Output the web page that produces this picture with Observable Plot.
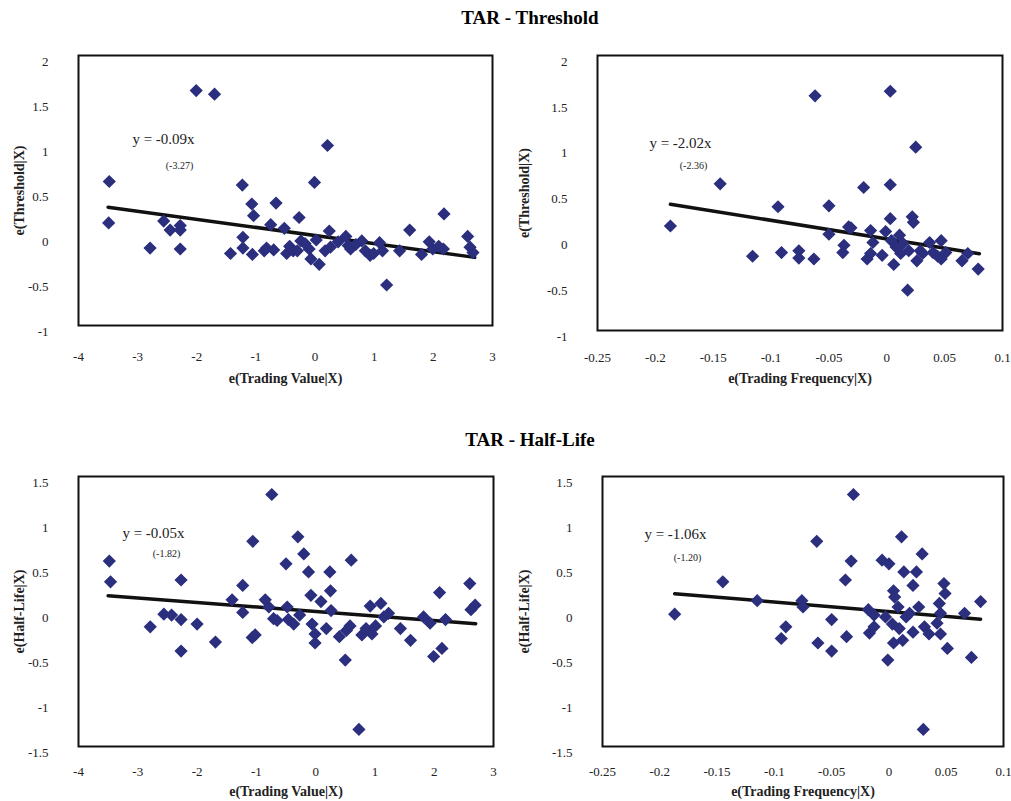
<!DOCTYPE html>
<html><head><meta charset="utf-8">
<script src="https://cdn.jsdelivr.net/npm/d3@7"></script>
<script src="https://cdn.jsdelivr.net/npm/@observablehq/plot@0.6"></script>
<style>
body{margin:0;background:#fff;font-family:"Liberation Serif",serif}
#wrap{position:relative;width:1011px;height:801px}
.t{position:absolute;left:0;width:1060px;text-align:center;font-weight:bold;font-size:19px}
.p{position:absolute}
</style></head><body><div id="wrap">
<div class="t" style="top:7px">TAR - Threshold</div>
<div class="t" style="top:429px">TAR - Half-Life</div>
</div>
<script>
// Panel 1: e(Trading Value|X) vs e(Threshold|X)
const tvX1 = [-3.48,-3.49,-2.01,-1.70,-2.79,-2.56,-2.45,-2.28,-2.28,-2.28,-1.43,-1.23,-1.22,-1.22,-1.07,-1.04,-1.06,-0.86,-0.82,-0.75,-0.70,-0.66,-0.52,-0.48,-0.43,-0.37,-0.30,-0.27,-0.24,-0.17,-0.10,-0.07,-0.01,0.02,0.07,0.17,0.21,0.24,0.26,0.39,0.52,0.56,0.60,0.69,0.79,0.85,0.93,0.99,1.09,1.14,1.21,1.43,1.60,1.80,1.93,1.99,2.09,2.17,2.18,2.58,2.62,2.67];
const thY1 = [0.60,0.14,1.61,1.57,-0.14,0.16,0.06,0.11,0.06,-0.15,-0.20,0.56,-0.02,-0.14,0.35,0.22,-0.21,-0.17,-0.14,0.12,-0.16,0.36,0.08,-0.20,-0.12,-0.17,-0.17,0.20,-0.06,-0.09,-0.15,-0.26,0.59,-0.05,-0.32,-0.17,1.00,0.05,-0.13,-0.07,-0.01,-0.11,-0.15,-0.10,-0.06,-0.17,-0.22,-0.20,-0.08,-0.17,-0.55,-0.17,0.06,-0.21,-0.07,-0.15,-0.12,-0.15,0.24,-0.01,-0.13,-0.19];
// Panel 2: e(Trading Frequency|X) vs e(Threshold|X)
const tfX2 = [-0.187,-0.144,-0.116,-0.094,-0.091,-0.076,-0.076,-0.063,-0.062,-0.050,-0.050,-0.038,-0.037,-0.033,-0.031,-0.020,-0.017,-0.014,-0.014,-0.012,-0.004,-0.001,0.003,0.003,0.003,0.004,0.006,0.008,0.011,0.012,0.014,0.018,0.019,0.022,0.023,0.025,0.026,0.029,0.031,0.037,0.040,0.044,0.047,0.047,0.051,0.065,0.070,0.079];
const thY2 = [0.14,0.60,-0.19,0.35,-0.15,-0.13,-0.21,-0.22,1.56,0.36,0.05,-0.15,-0.07,0.13,0.12,0.56,-0.22,0.09,-0.16,-0.04,-0.18,0.08,1.61,0.59,0.22,-0.02,-0.28,-0.09,0.04,-0.16,-0.05,-0.56,-0.13,0.24,0.18,1.00,-0.24,-0.13,-0.16,-0.04,-0.15,-0.19,-0.02,-0.22,-0.15,-0.24,-0.16,-0.33];
// Panel 3: e(Trading Value|X) vs e(Half-Life|X)
const tvX3 = [-3.48,-3.46,-2.79,-2.56,-2.43,-2.27,-2.27,-2.27,-2.00,-1.69,-1.41,-1.23,-1.23,-1.06,-1.07,-1.02,-0.85,-0.79,-0.74,-0.71,-0.65,-0.50,-0.48,-0.46,-0.37,-0.30,-0.27,-0.20,-0.12,-0.08,-0.06,-0.01,-0.01,0.09,0.18,0.24,0.25,0.26,0.40,0.50,0.52,0.58,0.60,0.73,0.78,0.85,0.92,0.95,1.01,1.10,1.15,1.23,1.43,1.60,1.82,1.93,1.99,2.09,2.13,2.19,2.60,2.62,2.69];
const hlY3 = [0.56,0.33,-0.17,-0.03,-0.04,0.35,-0.09,-0.44,-0.14,-0.34,0.13,0.29,-0.01,0.78,-0.29,-0.26,0.13,0.05,1.30,-0.08,-0.10,0.53,0.05,-0.09,-0.14,0.83,-0.04,0.64,0.44,0.18,-0.14,-0.25,-0.35,0.11,-0.19,0.44,0.23,0.01,-0.28,-0.54,-0.21,-0.16,0.57,-1.31,-0.26,-0.19,0.06,-0.25,-0.16,0.09,-0.06,-0.02,-0.19,-0.32,-0.06,-0.13,-0.50,0.21,-0.41,-0.09,0.31,0.02,0.07];
// Panel 4: e(Trading Frequency|X) vs e(Half-Life|X)
const tfX4 = [-0.187,-0.145,-0.115,-0.094,-0.090,-0.076,-0.075,-0.063,-0.062,-0.050,-0.050,-0.038,-0.037,-0.033,-0.031,-0.018,-0.017,-0.013,-0.013,-0.006,-0.003,0.000,-0.001,0.004,0.005,0.003,0.004,0.008,0.009,0.011,0.012,0.013,0.015,0.018,0.021,0.021,0.024,0.026,0.029,0.030,0.031,0.035,0.042,0.044,0.045,0.045,0.048,0.049,0.051,0.066,0.072,0.080];
const hlY4 = [-0.03,0.33,0.12,-0.30,-0.17,0.12,0.05,0.78,-0.35,-0.09,-0.44,0.35,-0.28,0.56,1.30,0.02,-0.24,-0.04,-0.17,0.57,-0.06,0.53,-0.54,0.23,0.16,-0.14,-0.35,0.05,-0.19,0.83,-0.32,0.44,-0.06,-0.02,0.29,-0.23,0.44,0.05,0.64,-1.31,-0.17,-0.25,-0.13,0.09,-0.02,-0.25,0.31,0.20,-0.41,-0.02,-0.51,0.11];

const slopes = [-0.09,-2.02,-0.05,-1.06];
const tStats = ["(-3.27)","(-2.36)","(-1.82)","(-1.20)"];
const xLabels = ["e(Trading Value|X)","e(Trading Frequency|X)","e(Trading Value|X)","e(Trading Frequency|X)"];
const yLabels = ["e(Threshold|X)","e(Threshold|X)","e(Half-Life|X)","e(Half-Life|X)"];
const lineX = [[-3.5,2.7],[-0.187,0.08],[-3.5,2.7],[-0.187,0.08]];
const xDomains = [[-4,3],[-0.25,0.1],[-4,3],[-0.25,0.1]];
const yDomains = [[-1,2],[-1,2],[-1.5,1.5],[-1.5,1.5]];
const xTicks = [[-4,-3,-2,-1,0,1,2,3],[-0.25,-0.2,-0.15,-0.1,-0.05,0,0.05,0.1]];
const yTicks = [[-1,-0.5,0,0.5,1,1.5,2],[-1.5,-1,-0.5,0,0.5,1,1.5]];

const panels = [
  {xs:tvX1, ys:thY1, left:0, top:40, w:510, h:360, ml:78, mr:18, mt:15, mb:75, eq:[85,78], pr:[101,106], xo:57, tp:26},
  {xs:tfX2, ys:thY2, left:505, top:40, w:506, h:360, ml:92, mr:9, mt:15, mb:70, eq:[83,82], pr:[96,106], xo:52, tp:22},
  {xs:tvX3, ys:hlY3, left:0, top:460, w:510, h:341, ml:78, mr:17, mt:16, mb:55, eq:[75,51], pr:[88,73], xo:49, tp:20},
  {xs:tfX4, ys:hlY4, left:505, top:460, w:506, h:341, ml:97, mr:8, mt:16, mb:55, eq:[73,52], pr:[85,77], xo:49, tp:20}
];
const fmt = d => d === 0 ? "0" : String(d).replace(/^(-?)0\./, "$10.");
panels.forEach((p,i) => {
  const pts = p.xs.map((x,j)=>({x, y:p.ys[j]}));
  const ln = lineX[i].map(x=>({x, y:slopes[i]*x}));
  const chart = Plot.plot({
    width:p.w, height:p.h, marginLeft:p.ml, marginRight:p.mr, marginTop:p.mt, marginBottom:p.mb,
    style:{fontFamily:"Liberation Serif, serif", fontSize:"13px", color:"#222", background:"#fff"},
    x:{domain:xDomains[i], ticks:xTicks[i%2], tickFormat:fmt, label:xLabels[i], labelAnchor:"center", labelArrow:"none", labelOffset:p.xo, tickSize:0, tickPadding:p.tp},
    y:{domain:yDomains[i], ticks:yTicks[Math.floor(i/2)], tickFormat:fmt, label:yLabels[i], labelAnchor:"center", labelArrow:"none", labelOffset:p.ml-14, tickSize:0, tickPadding:30},
    marks:[
      Plot.axisX({ticks:xTicks[i%2], tickFormat:fmt, tickSize:0, tickPadding:p.tp, label:null}),
      Plot.axisY({ticks:yTicks[Math.floor(i/2)], tickFormat:fmt, tickSize:0, tickPadding:30, dy:6, label:null}),
      Plot.axisX({ticks:[], label:xLabels[i], labelOffset:p.xo, labelAnchor:"center", labelArrow:"none", fontWeight:"bold", fontSize:14}),
      Plot.axisY({ticks:[], label:yLabels[i], labelOffset:p.ml-14, labelAnchor:"center", labelArrow:"none", fontWeight:"bold", fontSize:14}),
      Plot.frame({stroke:"#111", strokeWidth:2}),
      Plot.line(ln, {x:"x", y:"y", stroke:"#111", strokeWidth:3.5}),
      Plot.dot(pts, {x:"x", y:"y", symbol:"diamond2", r:5, fill:"#2b2f7e", stroke:"#2b2f7e"}),
      Plot.text([`y = ${slopes[i].toFixed(2)}x`], {frameAnchor:"top-left", dx:p.eq[0], dy:p.eq[1], textAnchor:"middle", fontSize:15, fill:"#222"}),
      Plot.text([tStats[i]], {frameAnchor:"top-left", dx:p.pr[0], dy:p.pr[1], textAnchor:"middle", fontSize:10, fill:"#222"})
    ]
  });
  const d = document.createElement("div");
  d.className = "p"; d.style.left = p.left+"px"; d.style.top = p.top+"px";
  d.appendChild(chart);
  document.getElementById("wrap").appendChild(d);
});
</script></body></html>
